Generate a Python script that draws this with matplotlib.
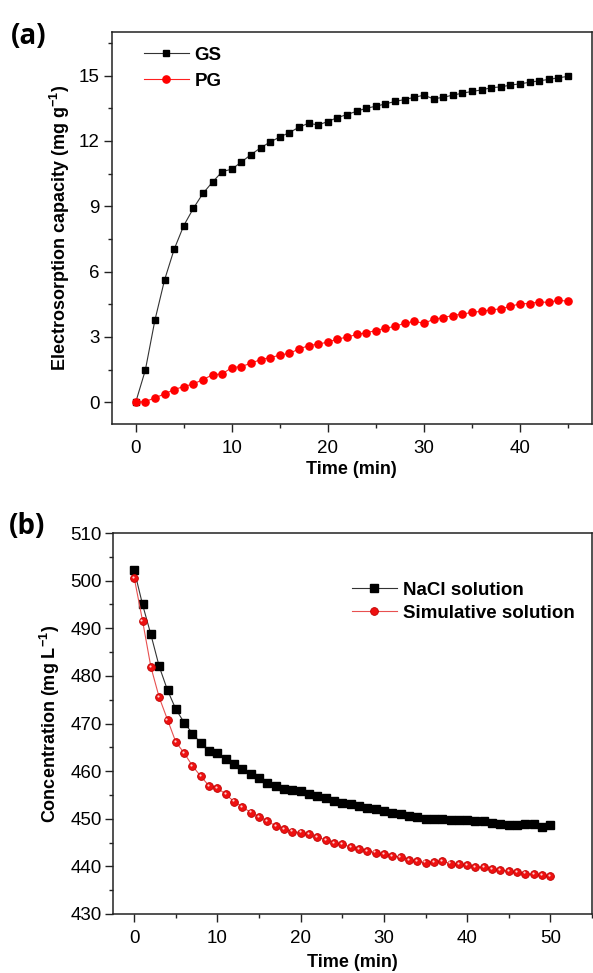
import numpy as np
import matplotlib
matplotlib.use("Agg")
import matplotlib.pyplot as plt
from matplotlib.ticker import MultipleLocator
from matplotlib.transforms import offset_copy

plt.rcParams['font.family'] = ['Liberation Sans', 'DejaVu Sans']
plt.rcParams['mathtext.fontset'] = 'custom'
plt.rcParams['mathtext.rm'] = 'Liberation Sans'
plt.rcParams['mathtext.bf'] = 'Liberation Sans:bold'

# ---- Panel (a) data ----
time_a = list(range(0, 46))
gs = [0.00, 1.47, 3.77, 5.61, 7.02, 8.11, 8.90, 9.59, 10.11, 10.59,
      10.70, 11.03, 11.37, 11.68, 11.95, 12.18, 12.38, 12.63, 12.81, 12.73,
      12.89, 13.07, 13.21, 13.36, 13.50, 13.59, 13.70, 13.81, 13.90, 14.00,
      14.10, 13.93, 14.00, 14.10, 14.19, 14.27, 14.34, 14.44, 14.48, 14.56,
      14.62, 14.69, 14.76, 14.82, 14.90, 14.96]
pg = [0.00, 0.03, 0.20, 0.38, 0.58, 0.72, 0.84, 1.04, 1.26, 1.30,
      1.59, 1.64, 1.79, 1.96, 2.05, 2.16, 2.25, 2.44, 2.60, 2.67,
      2.76, 2.90, 2.99, 3.11, 3.19, 3.29, 3.40, 3.48, 3.63, 3.71,
      3.63, 3.80, 3.89, 3.98, 4.05, 4.12, 4.18, 4.24, 4.29, 4.40,
      4.52, 4.53, 4.61, 4.58, 4.69, 4.63]
ticks_a_x = [0, 10, 20, 30, 40]
ticks_a_y = [0, 3, 6, 9, 12, 15]

# ---- Panel (b) data ----
time_b = list(range(0, 51))
nacl = [502.2, 495.0, 488.7, 482.0, 477.0, 473.0, 470.2, 467.9, 465.9, 464.2,
        463.8, 462.5, 461.4, 460.4, 459.3, 458.5, 457.6, 456.9, 456.2, 456.1,
        455.9, 455.3, 454.7, 454.3, 453.7, 453.4, 453.0, 452.7, 452.3, 452.0,
        451.7, 451.3, 451.0, 450.6, 450.3, 450.0, 449.9, 449.9, 449.8, 449.8,
        449.7, 449.6, 449.5, 449.1, 448.8, 448.6, 448.6, 449.0, 448.8, 448.3,
        448.7]
simul = [500.6, 491.6, 481.9, 475.5, 470.8, 466.1, 463.8, 461.1, 458.9, 456.9,
         456.5, 455.1, 453.6, 452.5, 451.3, 450.4, 449.5, 448.5, 447.8, 447.3,
         447.1, 446.7, 446.1, 445.6, 444.9, 444.6, 444.1, 443.7, 443.3, 442.9,
         442.5, 442.2, 442.0, 441.4, 441.1, 440.8, 441.0, 441.1, 440.6, 440.5,
         440.2, 439.9, 439.8, 439.5, 439.2, 439.0, 438.8, 438.5, 438.3, 438.1,
         437.9]
ticks_b_x = [0, 10, 20, 30, 40, 50]
ticks_b_y = [430, 440, 450, 460, 470, 480, 490, 500, 510]

W, H = 593, 973
fig = plt.figure(figsize=(W / 100, H / 100), dpi=100)

def px_axes(l, t, r, b):
    return fig.add_axes([l / W, 1 - b / H, (r - l) / W, (b - t) / H])

TICK_FS = 13.5
LABEL_FS = 13
LEG_FS = 13.5

def style(ax):
    for s in ax.spines.values():
        s.set_linewidth(1.1)
        s.set_color('#222222')
    ax.tick_params(which='both', direction='out', top=False, right=False,
                   labelsize=TICK_FS, color='#222222', width=1.0)
    ax.tick_params(which='major', length=5.5, pad=3)
    ax.tick_params(axis='x', which='major', pad=6)
    ax.tick_params(which='minor', length=3)

# ---- Panel (a) ----
ax1 = px_axes(111.7, 32, 592, 424)
ax1.plot(time_a, gs, color='#333333', lw=0.8, marker='s', ms=4.6,
         mfc='black', mec='black', label='GS')
ax1.plot(time_a, pg, color='#ff2020', lw=0.8, marker='o', ms=5.2,
         mfc='#ff0000', mec='#ff0000', label='PG')
ax1.set_xlim(-2.5, 47.5)
ax1.set_ylim(-1, 17)
ax1.set_xticks(ticks_a_x)
ax1.set_yticks(ticks_a_y)
ax1.xaxis.set_minor_locator(MultipleLocator(5))
ax1.yaxis.set_minor_locator(MultipleLocator(1.5))
style(ax1)
ax1.set_xlabel('Time (min)', fontsize=LABEL_FS, fontweight='bold', labelpad=3)
ax1.set_ylabel(r'Electrosorption capacity (mg g$^{\mathbf{-1}}$)',
               fontsize=LABEL_FS, fontweight='bold', labelpad=5)
leg1 = ax1.legend(loc='upper left', bbox_to_anchor=(0.067, 0.962),
                  frameon=False, fontsize=LEG_FS, handlelength=2.4,
                  handletextpad=0.3, labelspacing=0.45, borderpad=0,
                  borderaxespad=0)
for t in leg1.get_texts():
    t.set_fontweight('bold')

# ---- Panel (b) ----
ax2 = px_axes(113.4, 533, 592, 914)
ax2.plot(time_b, nacl, color='#333333', lw=0.8, marker='s', ms=5.2,
         mfc='black', mec='black', label='NaCl solution')
ax2.plot(time_b, simul, color='#e85050', lw=0.8, marker='o', ms=5.6,
         mfc='#ee1111', mec='#c00000', mew=0.6, label='Simulative solution')
hl = offset_copy(ax2.transData, fig=fig, x=-0.8, y=0.8, units='points')
ax2.plot(time_b, simul, ls='none', marker='o', ms=1.6, mfc='#ffd0d0',
         mec='none', transform=hl, label='_nolegend_')
ax2.set_xlim(-2.5, 55)
ax2.set_ylim(430, 510)
ax2.set_xticks(ticks_b_x)
ax2.set_yticks(ticks_b_y)
ax2.xaxis.set_minor_locator(MultipleLocator(5))
ax2.yaxis.set_minor_locator(MultipleLocator(5))
style(ax2)
ax2.set_xlabel('Time (min)', fontsize=LABEL_FS, fontweight='bold', labelpad=5)
ax2.set_ylabel(r'Concentration (mg L$^{\mathbf{-1}}$)',
               fontsize=LABEL_FS, fontweight='bold', labelpad=6)
leg2 = ax2.legend(loc='upper left', bbox_to_anchor=(0.4985, 0.872),
                  frameon=False, fontsize=LEG_FS, handlelength=2.4,
                  handletextpad=0.3, labelspacing=0.3, borderpad=0,
                  borderaxespad=0)
for t in leg2.get_texts():
    t.set_fontweight('bold')

# Panel labels
fig.text(11 / W, 1 - 37 / H, '(a)', fontsize=20, fontweight='bold',
         family=['Open Sans', 'DejaVu Sans'], va='center', ha='left')
fig.text(9 / W, 1 - 526 / H, '(b)', fontsize=20, fontweight='bold',
         family=['Open Sans', 'DejaVu Sans'], va='center', ha='left')

fig.savefig('out.png', dpi=100)
